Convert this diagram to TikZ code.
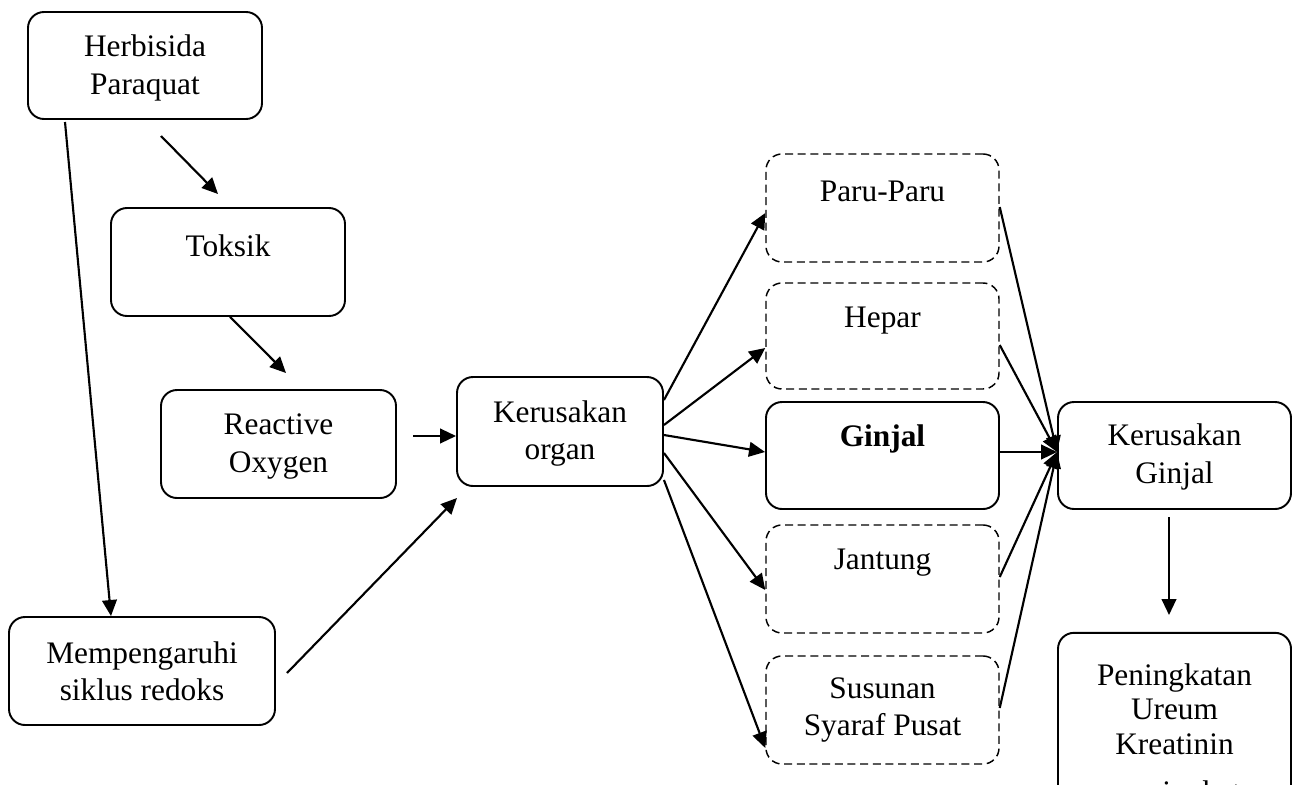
\documentclass[tikz,border=0pt]{standalone}
\usepackage{fontspec}
\setmainfont{Liberation Serif}
\usetikzlibrary{arrows.meta}
\tikzset{
  box/.style={draw, line width=1.45pt, rounded corners=12pt, inner sep=0pt},
  dbox/.style={box, line width=1.1pt, dash pattern=on 6pt off 3.5pt},
  txt/.style={align=center, inner sep=0pt, font=\fontsize{23.5pt}{28pt}\selectfont},
  arr/.style={line width=1.6pt, -{Triangle[length=12pt,width=11pt]}}
}
\begin{document}
\begin{tikzpicture}[x=0.75pt,y=-0.75pt]
\clip (0,0) rectangle (1292,785);
\fill[white] (0,0) rectangle (1292,785);
% boxes
\node[box, minimum width=175.5pt, minimum height=80.25pt] (herb) at (145,65.5) {};
\node[box, minimum width=175.5pt, minimum height=81pt] (toks) at (228,262) {};
\node[box, minimum width=176.25pt, minimum height=81pt] (ros) at (278.5,444) {};
\node[box, minimum width=199.5pt, minimum height=81pt] (memp) at (142,671) {};
\node[box, minimum width=154.5pt, minimum height=81.75pt] (ko) at (560,431.5) {};
\node[dbox, minimum width=174.75pt, minimum height=81pt] (paru) at (882.5,208) {};
\node[dbox, minimum width=174.75pt, minimum height=79.5pt] (hepar) at (882.5,336) {};
\node[box, minimum width=174.75pt, minimum height=80.25pt] (ginjal) at (882.5,455.5) {};
\node[dbox, minimum width=174.75pt, minimum height=81pt] (jant) at (882.5,579) {};
\node[dbox, minimum width=174.75pt, minimum height=81pt] (sus) at (882.5,710) {};
\node[box, minimum width=174.75pt, minimum height=80.25pt] (kg) at (1174.5,455.5) {};
\node[box, minimum width=174.75pt, minimum height=142pt] (pen) at (1174.5,727.5) {};
% texts
\node[txt] (herbT) at (145,68) {Herbisida\\Paraquat};
\node[txt] (toksT) at (228,246) {Toksik};
\node[txt] (rosT) at (278.5,446.5) {Reactive\\Oxygen};
\node[txt] (mempT) at (142,671) {Mempengaruhi\\siklus redoks};
\node[txt] (koT) at (560,433.5) {Kerusakan\\organ};
\node[txt] (paruT) at (882.5,191) {Paru-Paru};
\node[txt] (heparT) at (882.5,321) {Hepar};
\node[txt] (ginjalT) at (882.5,439) {\bfseries Ginjal};
\node[txt] (jantT) at (882.5,563) {Jantung};
\node[txt] (susT) at (882.5,710) {Susunan\\Syaraf Pusat};
\node[txt] (kgT) at (1174.5,457) {Kerusakan\\Ginjal};
\node[txt, anchor=north, font=\fontsize{23.5pt}{26pt}\selectfont] (penT) at (1174.5,663) {Peningkatan\\Ureum\\Kreatinin};
\node[txt, anchor=base] (penT2) at (1174.5,802) {meningkat};
% free ends
\coordinate (h1) at (65,122);
\coordinate (h2) at (161,136);
\coordinate (t1) at (218,194);
\coordinate (r1) at (286,373);
\coordinate (r2) at (413,436);
\coordinate (m1) at (287,673);
\coordinate (k1) at (457,498);
\coordinate (g1) at (1169,517);
\coordinate (g2) at (1169,615);
% connectors
\draw[arr] (h1) -- (111,0 |- memp.north);
\draw[arr] (h2) -- (t1);
\draw[arr] (230,0 |- toks.south) -- (r1);
\draw[arr] (r2) -- (ko.west |- r2);
\draw[arr] (m1) -- (k1);
\draw[arr] (ko.east |- 0,400) -- (paru.west |- 0,213);
\draw[arr] (ko.east |- 0,425) -- (hepar.west |- 0,348);
\draw[arr] (ko.east |- 0,435) -- (ginjal.west |- 0,452);
\draw[arr] (ko.east |- 0,453) -- (jant.west |- 0,590);
\draw[arr] (ko.east |- 0,480) -- (sus.west |- 0,748);
\draw[arr] (paru.east |- 0,207) -- (kg.west |- 0,452);
\draw[arr] (hepar.east |- 0,345) -- (kg.west |- 0,452);
\draw[arr] (ginjal.east |- 0,452) -- (kg.west |- 0,452);
\draw[arr] (jant.east |- 0,577) -- (kg.west |- 0,452);
\draw[arr] (sus.east |- 0,708) -- (kg.west |- 0,452);
\draw[arr] (g1) -- (g2);
\end{tikzpicture}
\end{document}
